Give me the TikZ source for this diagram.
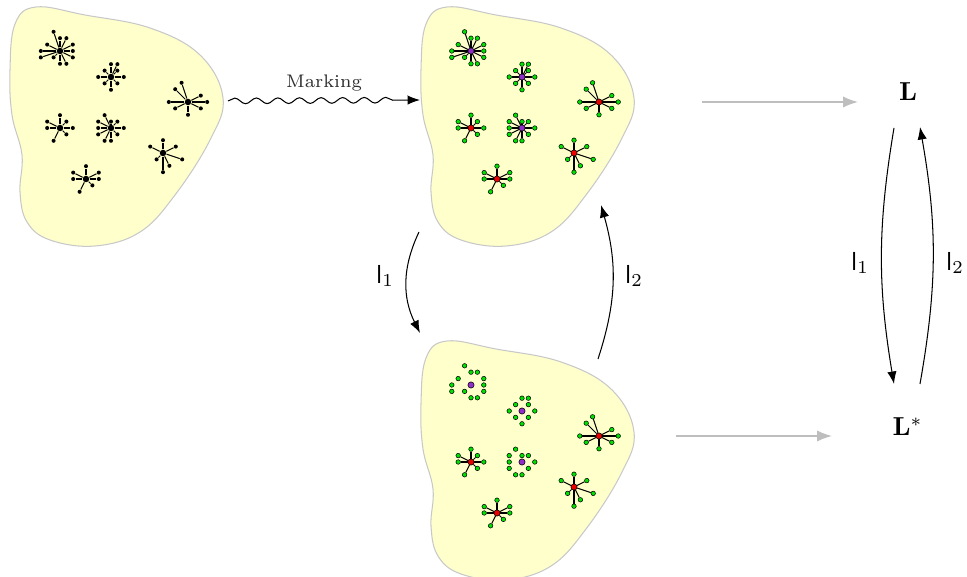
\documentclass[tikz,border=0pt]{standalone}
\usetikzlibrary{arrows.meta,decorations.pathmorphing,calc}
\definecolor{blobfill}{RGB}{255,255,204}
\definecolor{blobline}{RGB}{200,200,200}
\definecolor{leafgreen}{RGB}{0,225,0}
\definecolor{hubred}{RGB}{235,0,0}
\definecolor{hubviolet}{RGB}{145,45,200}
\definecolor{arrowgray}{RGB}{190,190,190}
\definecolor{marktext}{RGB}{45,45,45}
\tikzset{
  blob/.style={fill=blobfill, draw=blobline, line width=0.4pt},
  hubbk/.style={circle, fill=black, inner sep=0pt, minimum size=2.5pt},
  leafbk/.style={circle, fill=black, inner sep=0pt, minimum size=1.55pt},
  hubc/.style={circle, draw=black, line width=0.2pt, inner sep=0pt, minimum size=2.4pt},
  leafc/.style={circle, draw=black, fill=leafgreen, line width=0.2pt, inner sep=0pt, minimum size=1.75pt},
  spoke/.style={line width=0.4pt, black},
  snakearrow/.style={-{Latex}, line width=0.4pt, decorate,
    decoration={snake, amplitude=1.1pt, segment length=8.3pt, post length=3.5mm}},
  curarrow/.style={-{Latex}, line width=0.4pt},
  grayarrow/.style={-{Latex}, line width=0.6pt, draw=arrowgray},
  lab/.style={inner sep=0pt},
}
\newcommand\myblobpath{plot[smooth cycle, tension=0.65] coordinates {
  (10,70) (15,24) (36,7) (85,15) (150,28) (200,55) (223,98) (210,140)
  (175,195) (140,232) (95,246) (50,240) (27,222) (20,192) (22,155) (12,115)}}
\def\leafsA{-1/-3, 0/-2, 1/-2, -2/-1, 2/-1, -3/0, 2/0, -3/1, -1/1, 2/1, 0/2, 1/2}
\def\leafsB{0/-2, 1/-2, -1/-1, 1/-1, -2/0, 2/0, -1/1, 1/1, 0/2}
\def\leafsC{-1/-3, -2/-2, 2/-1, -3/0, 3/0, -2/1, 2/1, 0/2}
\def\leafsD{0/-2, -2/-1, 1/-1, -2/0, 2/0, 1/1, -1/2}
\def\leafsE{-1/-2, -2/-1, 0/-1, 1/-1, -2/0, 2/0, -2/1, 1/1, -1/2, 0/2}
\def\leafsF{0/-2, -2/-1, 2/-1, -1/1, 1/2, 3/1, 0/3}
\def\leafsG{0/-2, -2/-1, 2/-1, -2/0, 2/0, 1/1, -1/2}
% #1 name, #2 position, #3 hub style, #4 leaf style, #5 leaf list macro, #6 spokes (1/0)
\newcommand\mkstar[6]{%
  \node[#3] (#1) at (#2) {};
  \foreach \dx/\dy [count=\k] in #5 {
    \node[#4] (#1-\k) at ($(#1)+(\dx*6.4,\dy*6.4)$) {};
    \ifnum#6=1 \draw[spoke] (#1) -- (#1-\k);\fi
  }%
}
\begin{document}
\begin{tikzpicture}[x=0.3846pt, y=-0.3846pt]
\useasboundingbox (0,0) rectangle (967,577);
\fill[white] (0,0) rectangle (967,577);

% ---- blob 1 : plain graphs
\draw[blob] \myblobpath;
\mkstar{a1}{60,51}{hubbk}{leafbk}{\leafsA}{1}
\mkstar{a2}{111,77}{hubbk}{leafbk}{\leafsB}{1}
\mkstar{a3}{188,102}{hubbk}{leafbk}{\leafsC}{1}
\mkstar{a4}{60,128}{hubbk}{leafbk}{\leafsD}{1}
\mkstar{a5}{111,128}{hubbk}{leafbk}{\leafsE}{1}
\mkstar{a6}{163,153}{hubbk}{leafbk}{\leafsF}{1}
\mkstar{a7}{86,179}{hubbk}{leafbk}{\leafsG}{1}

% ---- blob 2 : marked graphs
\begin{scope}[shift={(411,0)}]
\draw[blob] \myblobpath;
\mkstar{b1}{60,51}{hubc,fill=hubviolet}{leafc}{\leafsA}{1}
\mkstar{b2}{111,77}{hubc,fill=hubviolet}{leafc}{\leafsB}{1}
\mkstar{b3}{188,102}{hubc,fill=hubred}{leafc}{\leafsC}{1}
\mkstar{b4}{60,128}{hubc,fill=hubred}{leafc}{\leafsD}{1}
\mkstar{b5}{111,128}{hubc,fill=hubviolet}{leafc}{\leafsE}{1}
\mkstar{b6}{163,153}{hubc,fill=hubred}{leafc}{\leafsF}{1}
\mkstar{b7}{86,179}{hubc,fill=hubred}{leafc}{\leafsG}{1}
\end{scope}

% ---- blob 3 : violet stars without spokes
\begin{scope}[shift={(411,334)}]
\draw[blob] \myblobpath;
\mkstar{c1}{60,51}{hubc,fill=hubviolet}{leafc}{\leafsA}{0}
\mkstar{c2}{111,77}{hubc,fill=hubviolet}{leafc}{\leafsB}{0}
\mkstar{c3}{188,102}{hubc,fill=hubred}{leafc}{\leafsC}{1}
\mkstar{c4}{60,128}{hubc,fill=hubred}{leafc}{\leafsD}{1}
\mkstar{c5}{111,128}{hubc,fill=hubviolet}{leafc}{\leafsE}{0}
\mkstar{c6}{163,153}{hubc,fill=hubred}{leafc}{\leafsF}{1}
\mkstar{c7}{86,179}{hubc,fill=hubred}{leafc}{\leafsG}{1}
\end{scope}

% ---- connectors between blobs
\coordinate (mkA) at (228,101);
\coordinate (mkB) at (420,100);
\draw[snakearrow] (mkA) -- node[above, text=marktext, font=\scriptsize] (mklab) {Marking} (mkB);

\coordinate (lA) at (419,232);
\coordinate (lB) at (420,333);
\draw[curarrow] (lA) to[bend right=26] (lB);
\node[lab] (l1left) at (385,276) {$\mathsf{l}_1$};

\coordinate (rA) at (598,359);
\coordinate (rB) at (601,205);
\draw[curarrow] (rA) to[bend right=17] (rB);
\node[lab] (l2left) at (634,276) {$\mathsf{l}_2$};

% ---- right part
\node[lab] (L) at (908,92) {$\mathbf{L}$};
\node[lab] (Ls) at (907.5,427) {$\mathbf{L}^*$};

\coordinate (g1A) at (702,102);
\coordinate (g1B) at (858,102);
\draw[grayarrow] (g1A) -- (g1B);
\coordinate (g2A) at (676,436);
\coordinate (g2B) at (832,436);
\draw[grayarrow] (g2A) -- (g2B);

\coordinate (dA) at (894,128);
\coordinate (dB) at (894,384);
\draw[curarrow] (dA) to[bend right=9.5] (dB);
\node[lab] (l1right) at (860,263) {$\mathsf{l}_1$};

\coordinate (uA) at (920,384);
\coordinate (uB) at (920,127);
\draw[curarrow] (uA) to[bend right=10] (uB);
\node[lab] (l2right) at (955,263) {$\mathsf{l}_2$};
\end{tikzpicture}
\end{document}
